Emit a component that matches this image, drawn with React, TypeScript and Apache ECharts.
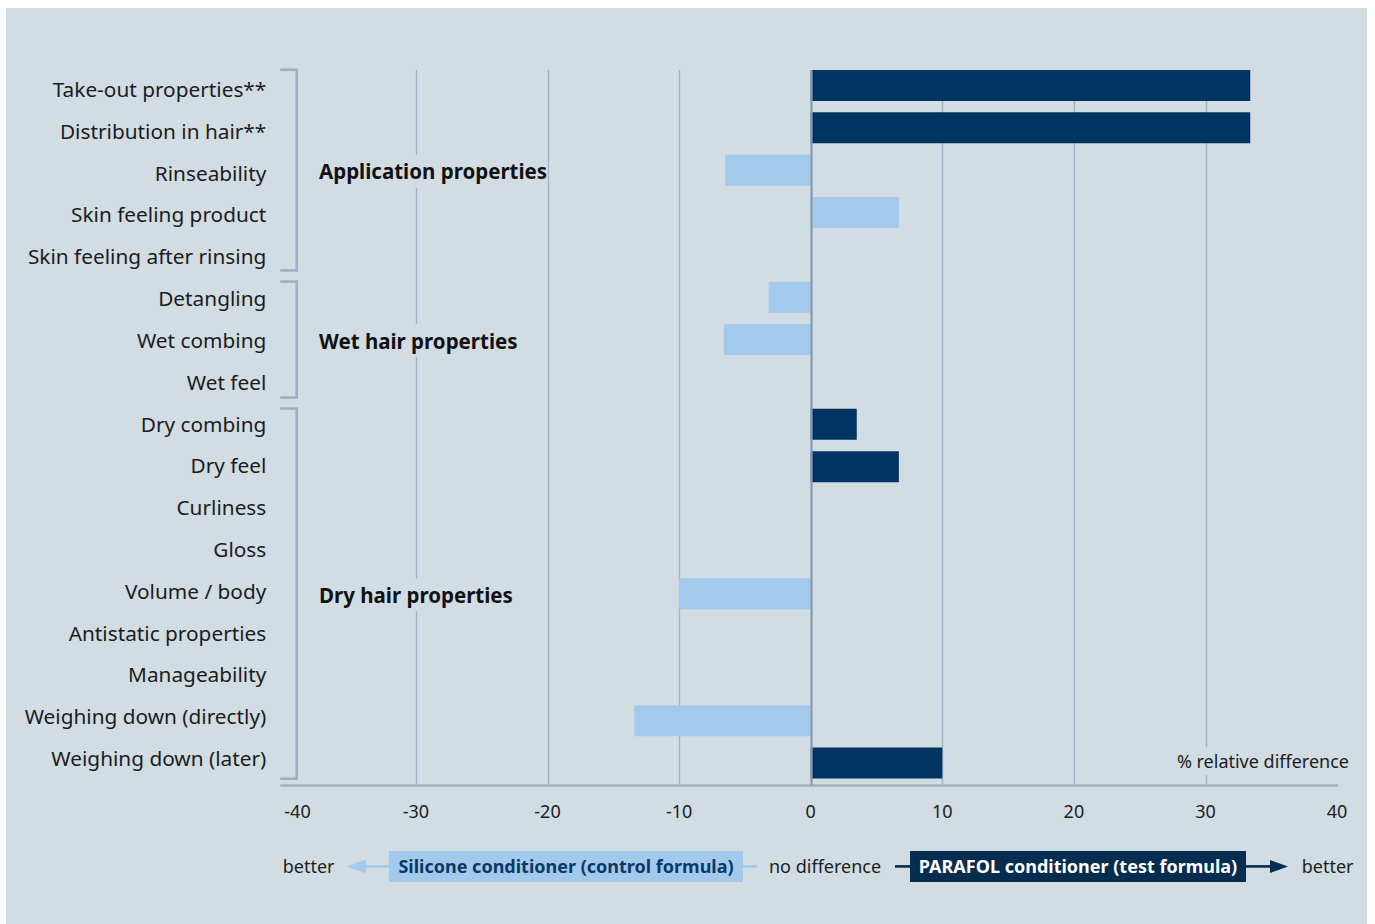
import React, { useEffect, useRef } from "react";
import * as echarts from "echarts";

// ---------- data ----------
const categories = [
  "Take-out properties**",
  "Distribution in hair**",
  "Rinseability",
  "Skin feeling product",
  "Skin feeling after rinsing",
  "Detangling",
  "Wet combing",
  "Wet feel",
  "Dry combing",
  "Dry feel",
  "Curliness",
  "Gloss",
  "Volume / body",
  "Antistatic properties",
  "Manageability",
  "Weighing down (directly)",
  "Weighing down (later)",
];

// dark bars (PARAFOL conditioner clearly better)
const parafolValues = [33.4, 33.4, null, null, null, null, null, null, 3.5, 6.7, null, null, null, null, null, null, 10];
// light bars
const otherValues = [null, null, -6.5, 6.7, null, -3.2, -6.6, null, null, null, null, null, -10, null, null, -13.4, null];

const xTicks = [-40, -30, -20, -10, 0, 10, 20, 30, 40];

const groupNames = ["Application properties", "Wet hair properties", "Dry hair properties"];
const groupFirstRow = [0, 5, 8];
const groupLastRow = [4, 7, 16];
const groupLabelRow = [2, 6, 12];

const axisTitle = "% relative difference";
const legendLeftWord = "better";
const legendLight = "Silicone conditioner (control formula)";
const legendMiddle = "no difference";
const legendDark = "PARAFOL conditioner (test formula)";
const legendRightWord = "better";

// ---------- styles ----------
const BG = "#d1dce3";
const NAVY = "#003461";
const NAVY_BOX = "#062c50";
const LIGHT = "#a3caed";
const GRID = "#9fb2c6";
const ZERO = "#8599b0";
const BRACKET = "#9aaec6";
const TEXT = "#1c1c1c";
const FONT = "'Noto Sans', 'DejaVu Sans', sans-serif";
const BAR_W = 31;

export default function App() {
  const ref = useRef<HTMLDivElement>(null);

  useEffect(() => {
    const chart = echarts.init(ref.current!, undefined, { renderer: "svg" });
    chart.setOption({
      animation: false,
      backgroundColor: BG,
      textStyle: { fontFamily: FONT },
      grid: [
        { left: 278.3, right: 29.9, top: 56.3, bottom: 139.7, containLabel: false },
        // label column (slightly tighter row pitch than the bars, as in the original)
        { left: 278.3, right: 29.9, top: 60.1, bottom: 145.1, containLabel: false },
      ],
      xAxis: [
        {
          type: "value",
          gridIndex: 0,
          min: -40,
          max: 40,
          interval: 10,
          axisLine: { show: false },
          axisTick: { show: false },
          splitLine: { show: false },
          axisLabel: {
            fontFamily: FONT,
            fontSize: 18,
            color: TEXT,
            margin: 18,
            alignMinLabel: "left",
            formatter: (v: number) => String(v),
          },
        },
        {
          type: "value",
          gridIndex: 1,
          min: -40,
          max: 40,
          show: false,
        },
      ],
      yAxis: [
        {
          type: "category",
          gridIndex: 0,
          data: categories,
          inverse: true,
          axisLine: { show: false },
          axisTick: { show: false },
          splitLine: { show: false },
          axisLabel: { show: false },
        },
        {
          type: "category",
          gridIndex: 1,
          data: categories,
          inverse: true,
          axisLine: { show: false },
          axisTick: { show: false },
          splitLine: { show: false },
          axisLabel: {
            fontFamily: FONT,
            fontSize: 20.8,
            color: TEXT,
            margin: 18,
          },
        },
      ],
      series: [
        {
          type: "bar",
          name: legendDark,
          stack: "diff",
          data: parafolValues,
          barWidth: BAR_W,
          itemStyle: { color: NAVY },
        },
        {
          type: "bar",
          name: legendLight,
          stack: "diff",
          data: otherValues,
          barWidth: BAR_W,
          itemStyle: { color: LIGHT },
        },
      ],
    });

    const px = (v: number) => chart.convertToPixel({ xAxisIndex: 0 }, v) as number;
    const py = (i: number) => chart.convertToPixel({ yAxisIndex: 0 }, i) as number;
    const band = py(1) - py(0);
    const boundary = (i: number) => py(i) - band / 2;
    const axisY = boundary(categories.length) + 1.2;
    const lineTop = py(0) - BAR_W / 2;
    const xLeft = px(-40) - 4;
    const xRight = px(40) + 1;

    const g: any[] = [];
    // vertical grid lines
    xTicks.forEach((v) => {
      if (v === -40 || v === 40) return;
      const x = Math.round(px(v)) + 0.5;
      g.push({
        type: "line",
        z: v === 0 ? 10 : 0,
        shape: { x1: x, y1: lineTop, x2: x, y2: axisY },
        style: { stroke: v === 0 ? ZERO : GRID, lineWidth: v === 0 ? 2.2 : 1.3 },
        silent: true,
      });
    });
    // axis line
    g.push({
      type: "line",
      z: 1,
      shape: { x1: xLeft, y1: axisY, x2: xRight, y2: axisY },
      style: { stroke: GRID, lineWidth: 2.4 },
      silent: true,
    });
    // brackets + group labels
    const xV = px(-40) + 12.4;
    groupNames.forEach((name, k) => {
      const yT = boundary(groupFirstRow[k]) + 5.5;
      const yB = boundary(groupLastRow[k] + 1) - 5.5;
      g.push({
        type: "polyline",
        z: 1,
        shape: { points: [[xLeft, yT], [xV, yT], [xV, yB], [xLeft, yB]] },
        style: { stroke: BRACKET, lineWidth: 2.5, fill: null },
        silent: true,
      });
      g.push({
        type: "text",
        z: 20,
        x: xV + 22.3,
        y: py(groupLabelRow[k]) + 1,
        style: {
          text: name,
          fill: "#111111",
          font: `bold 20.5px ${FONT}`,
          verticalAlign: "middle",
          align: "left",
          backgroundColor: BG,
          padding: [6, 0],
        },
        silent: true,
      });
    });
    // axis title
    g.push({
      type: "text",
      z: 20,
      x: 1345,
      y: 753,
      style: {
        text: axisTitle,
        fill: TEXT,
        font: `18px ${FONT}`,
        align: "right",
        verticalAlign: "middle",
        backgroundColor: BG,
        padding: [5, 2],
      },
      silent: true,
    });

    // legend row
    const ly = 858.4;
    g.push({
      type: "text",
      x: 276.7,
      y: ly,
      style: { text: legendLeftWord, fill: TEXT, font: `18px ${FONT}`, align: "left", verticalAlign: "middle" },
    });
    g.push({
      type: "polygon",
      shape: { points: [[341, ly], [360, ly - 7], [360, ly + 7]] },
      style: { fill: LIGHT },
    });
    g.push({
      type: "line",
      shape: { x1: 359, y1: ly, x2: 384, y2: ly },
      style: { stroke: LIGHT, lineWidth: 2.6 },
    });
    g.push({
      type: "rect",
      shape: { x: 383, y: ly - 15.5, width: 354, height: 31 },
      style: { fill: LIGHT },
    });
    g.push({
      type: "text",
      x: 560,
      y: ly,
      style: { text: legendLight, fill: "#0a3966", font: `bold 18px ${FONT}`, align: "center", verticalAlign: "middle" },
    });
    g.push({
      type: "line",
      shape: { x1: 737, y1: ly, x2: 751, y2: ly },
      style: { stroke: LIGHT, lineWidth: 2.6 },
    });
    g.push({
      type: "text",
      x: 763,
      y: ly,
      style: { text: legendMiddle, fill: TEXT, font: `18px ${FONT}`, align: "left", verticalAlign: "middle" },
    });
    g.push({
      type: "line",
      shape: { x1: 889, y1: ly, x2: 905, y2: ly },
      style: { stroke: NAVY_BOX, lineWidth: 2.6 },
    });
    g.push({
      type: "rect",
      shape: { x: 904, y: ly - 15.5, width: 336, height: 31 },
      style: { fill: NAVY_BOX },
    });
    g.push({
      type: "text",
      x: 1072,
      y: ly,
      style: { text: legendDark, fill: "#ffffff", font: `bold 18px ${FONT}`, align: "center", verticalAlign: "middle" },
    });
    g.push({
      type: "line",
      shape: { x1: 1239, y1: ly, x2: 1266, y2: ly },
      style: { stroke: NAVY_BOX, lineWidth: 2.6 },
    });
    g.push({
      type: "polygon",
      shape: { points: [[1282, ly], [1264, ly - 6.5], [1264, ly + 6.5]] },
      style: { fill: NAVY_BOX },
    });
    g.push({
      type: "text",
      x: 1295.7,
      y: ly,
      style: { text: legendRightWord, fill: TEXT, font: `18px ${FONT}`, align: "left", verticalAlign: "middle" },
    });

    chart.setOption({ graphic: g });

    return () => chart.dispose();
  }, []);

  return (
    <div
      ref={ref}
      style={{ position: "absolute", left: 6, top: 8, width: 1361, height: 916, background: BG }}
    />
  );
}
